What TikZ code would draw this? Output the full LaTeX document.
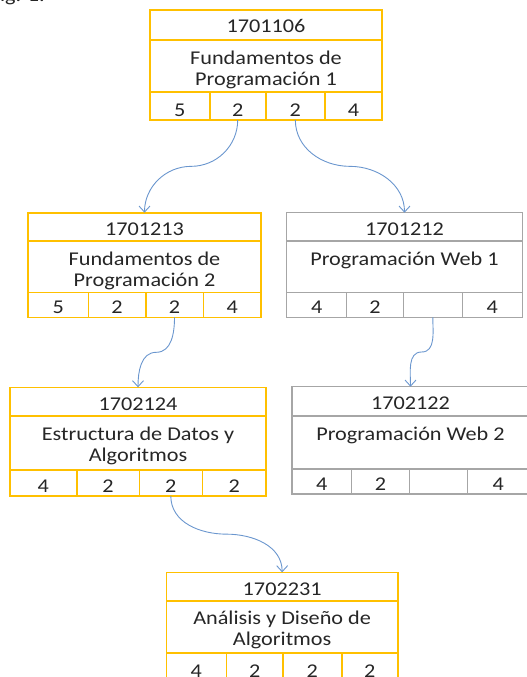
\documentclass[tikz,border=0pt]{standalone}
\usepackage{fontspec}
\setmainfont{Carlito}[FakeStretch=1.14]
\usetikzlibrary{arrows.meta,calc}
\definecolor{gold}{HTML}{FFC000}
\definecolor{greyb}{HTML}{A6A6A6}
\definecolor{conn}{HTML}{6A96CE}
\definecolor{txt}{HTML}{262626}
\tikzset{
  part/.style={draw, line width=1.6pt, inner sep=0pt, outer sep=0pt, anchor=north west},
  gold box/.style={part, draw=gold},
  grey box/.style={part, draw=greyb, line width=1.4pt},
  lbl/.style={anchor=base, inner sep=0pt, text=txt, font=\fontsize{19.5}{21}\selectfont},
  link/.style={draw=conn, line width=0.9pt, -{Straight Barb[length=6pt,width=11pt]}},
}
\def\bxparsex#1/#2/#3/#4/#5\relax{\def\xA{#1}\def\xB{#2}\def\xC{#3}\def\xD{#4}\def\xE{#5}}
\def\bxparsey#1/#2/#3/#4\relax{\def\yA{#1}\def\yB{#2}\def\yC{#3}\def\yD{#4}}
\def\bxparsec#1/#2/#3/#4\relax{\def\cA{#1}\def\cB{#2}\def\cC{#3}\def\cD{#4}}
% #1 name, #2 style, #3 x list, #4 y list, #5 code, #6 title, #7 cells
\newcommand\mkbox[7]{%
  \bxparsex#3\relax\bxparsey#4\relax\bxparsec#7\relax
  \node[#2, minimum width={(\xE-\xA)*1pt}, minimum height={(\yB-\yA)*1pt}] (#1-h) at (\xA,\yA) {};
  \node[#2, minimum width={(\xE-\xA)*1pt}, minimum height={(\yC-\yB)*1pt}] (#1-b) at (\xA,\yB) {};
  \node[#2, minimum width={(\xB-\xA)*1pt}, minimum height={(\yD-\yC)*1pt}] (#1-c1) at (\xA,\yC) {};
  \node[#2, minimum width={(\xC-\xB)*1pt}, minimum height={(\yD-\yC)*1pt}] (#1-c2) at (\xB,\yC) {};
  \node[#2, minimum width={(\xD-\xC)*1pt}, minimum height={(\yD-\yC)*1pt}] (#1-c3) at (\xC,\yC) {};
  \node[#2, minimum width={(\xE-\xD)*1pt}, minimum height={(\yD-\yC)*1pt}] (#1-c4) at (\xD,\yC) {};
  \node[lbl] (#1-ht) at ({(\xA+\xE)/2},{\yA+23}) {#5};
  \node[lbl] (#1-bt) at ({(\xA+\xE)/2},{\yB+24}) {\begin{tabular}[t]{@{}c@{}}#6\end{tabular}};
  \node[lbl] (#1-t1) at ({(\xA+\xB)/2},{\yD-3.5}) {\cA};
  \node[lbl] (#1-t2) at ({(\xB+\xC)/2},{\yD-3.5}) {\cB};
  \node[lbl] (#1-t3) at ({(\xC+\xD)/2},{\yD-3.5}) {\cC};
  \node[lbl] (#1-t4) at ({(\xD+\xE)/2},{\yD-3.5}) {\cD};
}
\begin{document}
\begin{tikzpicture}[x=1pt,y=-1pt]
\useasboundingbox (0,0) rectangle (527,677);
\node[lbl, anchor=base east] (fig) at (45,2) {Fig. 1.};
\mkbox{b1}{gold box}{150/209.7/265.7/325/382}{10/40/92/120}{1701106}{Fundamentos de\\Programación 1}{5/2/2/4}
\mkbox{b2}{gold box}{28/88.3/145.7/203.3/261}{212.7/241/292.3/317.3}{1701213}{Fundamentos de\\Programación 2}{5/2/2/4}
\mkbox{b3}{grey box}{286.7/346.7/403.3/462.3/522.3}{212.7/241/292.3/317.3}{1701212}{Programación Web 1}{4/2//4}
\mkbox{b4}{gold box}{10/76.7/139.3/202.3/266}{387.3/416/470/496}{1702124}{Estructura de Datos y\\Algoritmos}{4/2/2/2}
\mkbox{b5}{grey box}{292/351.7/409.3/467.3/529}{386.7/416/469/494}{1702122}{Programación Web 2}{4/2//4}
\mkbox{b6}{gold box}{166.3/226.3/283/341.7/398}{572.3/600.7/652.7/681}{1702231}{Análisis y Diseño de\\Algoritmos}{4/2/2/2}
\draw[link] (b1-c2.south) to[out=-90,in=0] ($(b1-c2.south)!.5!(b2-h.north)$) to[out=180,in=90] (b2-h.north);
\draw[link] (b1-c3.south) to[out=-90,in=180] ($(b1-c3.south)!.5!(b3-h.north)$) to[out=0,in=90] (b3-h.north);
\draw[link] (b2-c3.south) to[out=-90,in=0] ($(b2-c3.south)!.5!(b4-h.north)$) to[out=180,in=90] (b4-h.north);
\draw[link] (b3-c3.south) to[out=-90,in=0] ($(b3-c3.south)!.5!(b5-h.north)$) to[out=180,in=90] (b5-h.north);
\draw[link] (b4-c3.south) to[out=-90,in=180] ($(b4-c3.south)!.5!(b6-h.north)$) to[out=0,in=90] (b6-h.north);
\end{tikzpicture}
\end{document}
